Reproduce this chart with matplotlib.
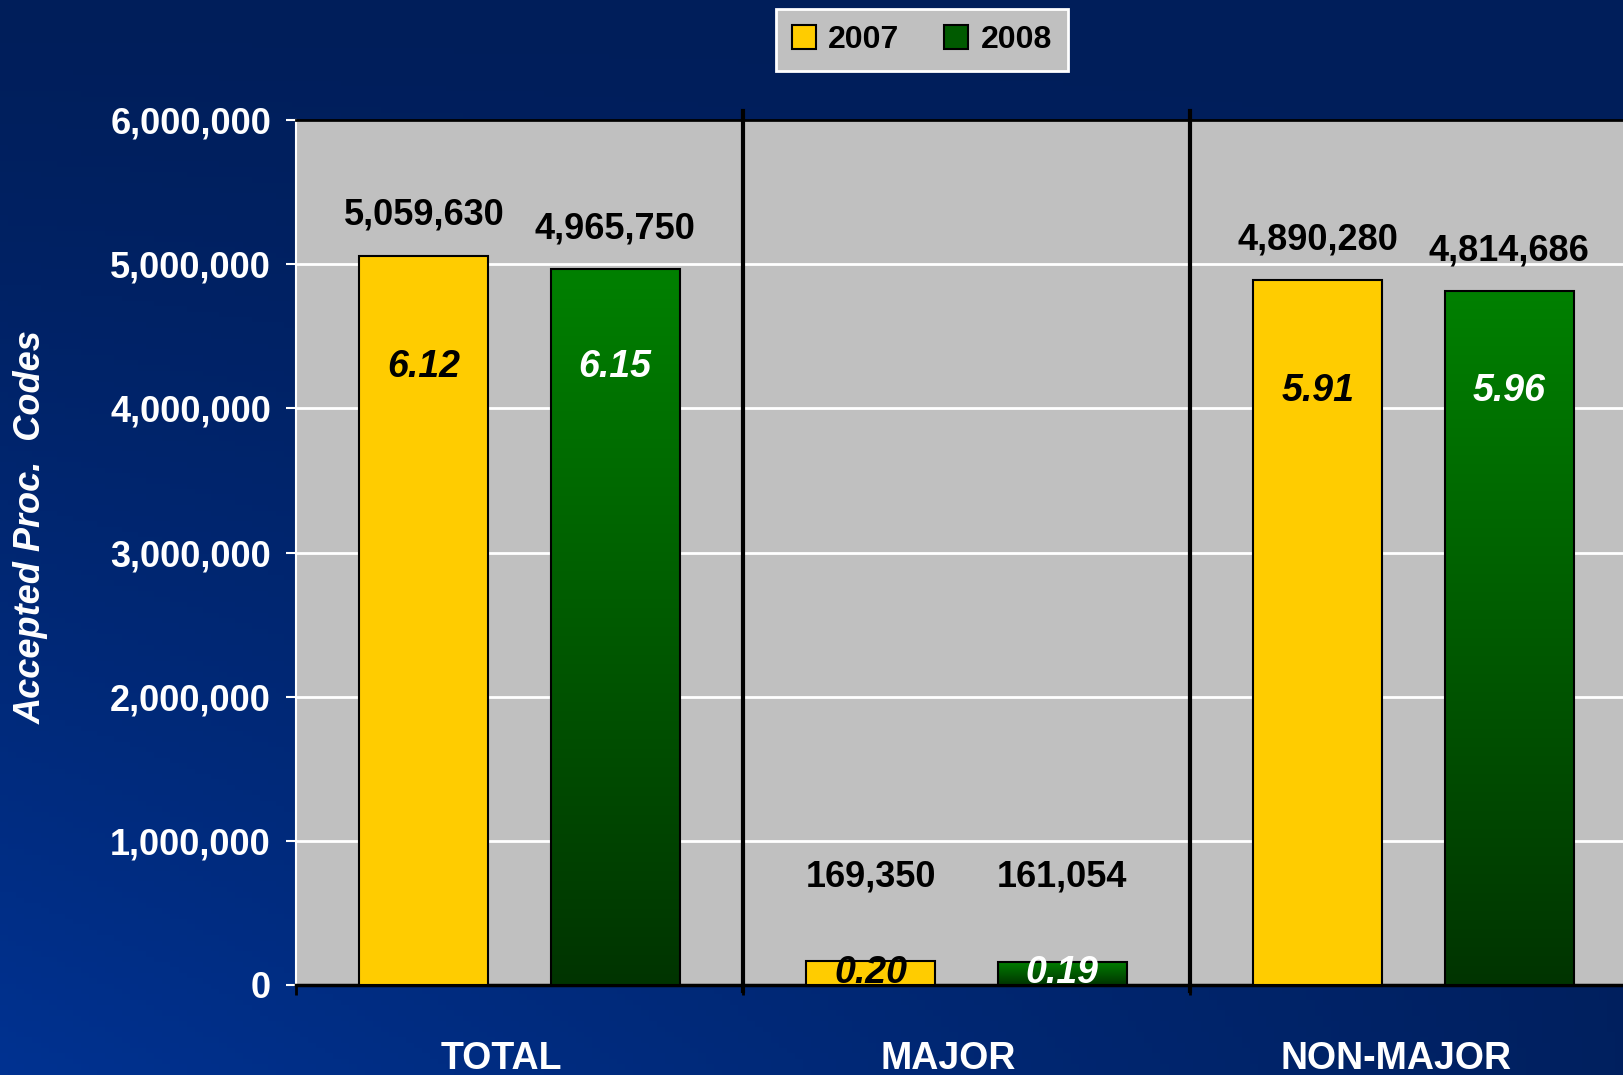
import numpy as np
import matplotlib.pyplot as plt
from matplotlib.patches import Patch
from matplotlib.colors import LinearSegmentedColormap

categories = ["TOTAL", "MAJOR", "NON-MAJOR"]
years = ["2007", "2008"]
vals_2007 = [5059630, 169350, 4890280]
vals_2008 = [4965750, 161054, 4814686]
inner_2007 = ["6.12", "0.20", "5.91"]
inner_2008 = ["6.15", "0.19", "5.96"]

plt.rcParams['font.family'] = ['Liberation Sans', 'DejaVu Sans']

fig = plt.figure(figsize=(16.23, 10.75), dpi=100)

# background gradient (dark navy top, brighter blue bottom left)
bg = fig.add_axes([0, 0, 1, 1], zorder=-10)
yy, xx = np.mgrid[0:1:200j, 0:1:200j]
top = np.array([0, 30, 90]) / 255
bot_l = np.array([0, 50, 145]) / 255
bot_r = np.array([0, 32, 95]) / 255
bot = bot_l[None, None, :] * (1 - xx[..., None]) + bot_r[None, None, :] * xx[..., None]
t = (yy ** 1.2)[..., None]
img = top[None, None, :] * (1 - t) + bot * t
bg.imshow(img, aspect='auto', extent=[0, 1, 0, 1], origin='upper')
bg.axis('off')

ax = fig.add_axes([296/1623, 1 - 985/1075, (1637-296)/1623, (985-120)/1075])
ax.set_facecolor("#c0c0c0")

x = np.arange(len(categories))
w = 0.288
off = 0.214
green_cmap = LinearSegmentedColormap.from_list("g", ["#003400", "#008000"])

bars07 = ax.bar(x - off, vals_2007, w, color="#ffcc00", edgecolor="black", linewidth=1.5, zorder=3)
bars08 = ax.bar(x + off, vals_2008, w, color="#006400", edgecolor="black", linewidth=1.5, zorder=3)

# vertical gradient fill on green bars
grad = np.linspace(0, 1, 256).reshape(-1, 1)
for b in bars08:
    bx, by = b.get_x(), b.get_y()
    bw, bh = b.get_width(), b.get_height()
    im = ax.imshow(grad, cmap=green_cmap, origin='lower', aspect='auto',
                   extent=[bx, bx + bw, by, by + bh], zorder=3.5)
    im.set_clip_path(b)
    b.set_facecolor("none")
    b.set_zorder(4)

ax.set_xlim(-0.5, 2.5)
ax.set_ylim(0, 6000000)

# value labels above bars and ratio labels inside
for i in range(len(categories)):
    inner_y = max(max(vals_2007[i], vals_2008[i]) - 770000, 86000)
    for xpos, v, r, tc in [(x[i] - off, vals_2007[i], inner_2007[i], "black"),
                           (x[i] + off, vals_2008[i], inner_2008[i], "white")]:
        ax.text(xpos, max(v, 470000) + 280000, f"{v:,}", ha="center", va="center",
                fontsize=26, fontweight="bold", color="black", zorder=5)
        ax.text(xpos, inner_y, r, ha="center", va="center",
                fontsize=27, fontweight="bold", fontstyle="italic", color=tc, zorder=5)

# category separators
for sx in [0.5, 1.5]:
    ax.plot([sx, sx], [-40000, 6060000], color="black", lw=3, clip_on=False, zorder=6)

ax.yaxis.grid(True, color="white", lw=2, zorder=0)
ax.set_axisbelow(True)
ax.set_yticks(np.arange(0, 6000001, 1000000))
ax.yaxis.set_major_formatter(plt.FuncFormatter(lambda v, p: f"{int(v):,}"))
ax.tick_params(axis="y", colors="white", labelsize=26, length=7, width=1.5, pad=11)
for lab in ax.get_yticklabels():
    lab.set_fontweight("bold")

ax.set_xticks([-0.5, 0.5, 1.5, 2.5])
ax.set_xticklabels([])
ax.set_xticks(x - 0.04, minor=True)
ax.set_xticklabels(categories, minor=True, fontsize=27, fontweight="bold", color="white")
ax.tick_params(axis="x", which="major", color="black", length=7, width=2)
ax.tick_params(axis="x", which="minor", length=0, pad=40)

ax.spines["left"].set_color("white")
ax.spines["left"].set_linewidth(1.5)
ax.spines["bottom"].set_color("black")
ax.spines["bottom"].set_linewidth(2.5)
ax.spines["top"].set_color("black")
ax.spines["top"].set_linewidth(2)
ax.spines["right"].set_visible(False)

fig.text(31/1623, 1 - 527/1075, "Accepted Proc.  Codes", rotation=90, ha="center", va="center",
         fontsize=26, fontweight="bold", fontstyle="italic", color="white")

handles = [Patch(facecolor="#ffcc00", edgecolor="black", lw=1.5),
           Patch(facecolor="#005a00", edgecolor="black", lw=1.5)]
leg = fig.legend(handles, years, loc="center", bbox_to_anchor=(922/1623, 1 - 40/1075), ncol=2,
                 prop={"size": 23, "weight": "bold"}, frameon=True, fancybox=False,
                 handlelength=0.75, handleheight=0.75, handletextpad=0.4, columnspacing=1.4,
                 borderpad=0.5)
leg.get_frame().set_facecolor("#c0c0c0")
leg.get_frame().set_edgecolor("white")
leg.get_frame().set_linewidth(2)
leg.get_frame().set_alpha(1)

fig.savefig("out.png", dpi=100)
